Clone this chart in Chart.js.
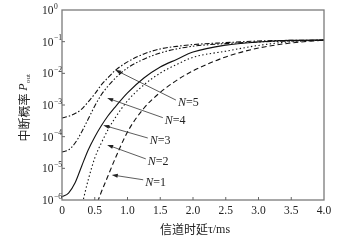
<!DOCTYPE html>
<html>
<head>
<meta charset="utf-8">
<script src="https://cdn.jsdelivr.net/npm/chart.js@4.4.1/dist/chart.umd.min.js"></script>
<style>
html, body { margin: 0; padding: 0; background: #fff; }
#wrap { width: 363px; height: 241px; }
</style>
</head>
<body>
<div id="wrap"><canvas id="chart_outage" width="363" height="241"></canvas></div>
<script>
// channel delay (ms) sample points
var tau = [0, 0.1, 0.2, 0.3, 0.4, 0.5, 0.6, 0.7, 0.8, 1.0, 1.25, 1.5, 1.75, 2.0, 2.5, 3.0, 3.5, 4.0];

// outage probability per N
var pN5 = [3.9e-4, 4.4e-4, 5.4e-4, 7.4e-4, 1.26e-3, 2.24e-3, 4.3e-3, 7.2e-3, 1.17e-2, 2.3e-2, 4.1e-2, 5.9e-2, 7.1e-2, 8.1e-2, 9.3e-2, 0.105, 0.11, 0.112];
var pN4 = [3.3e-5, 3.8e-5, 6.3e-5, 1.41e-4, 3.6e-4, 9.3e-4, 2.1e-3, 3.9e-3, 6.6e-3, 1.48e-2, 2.8e-2, 4.4e-2, 5.9e-2, 7.2e-2, 8.7e-2, 9.8e-2, 0.105, 0.112];
var pN3 = [1.26e-6, 1.66e-6, 3.5e-6, 1.17e-5, 3.8e-5, 9.8e-5, 2.2e-4, 4.5e-4, 8.1e-4, 2.4e-3, 7.1e-3, 1.58e-2, 2.75e-2, 4.7e-2, 7.8e-2, 9.8e-2, 0.11, 0.112];
var pN2 = [null, null, null, 6.3e-7, 4.3e-6, 2.1e-5, 6.3e-5, 1.62e-4, 3.6e-4, 1.35e-3, 4.3e-3, 1.02e-2, 1.9e-2, 3.2e-2, 5.0e-2, 7.6e-2, 0.1, 0.112];
var pN1 = [null, null, null, null, null, 5.0e-7, 1.78e-6, 5.6e-6, 1.78e-5, 1.41e-4, 7.9e-4, 2.5e-3, 6.0e-3, 1.2e-2, 3.3e-2, 6.3e-2, 9.1e-2, 0.112];

var seriesN = ['5', '4', '3', '2', '1'];
var seriesP = [pN5, pN4, pN3, pN2, pN1];
var seriesDash = [[5, 2, 1.5, 2], [5, 2, 1.5, 2, 1.5, 2], [], [1.4, 2.4], [5, 3]];

// annotation labels "N=k": label anchor and arrow tip, in data units
var labelTau = [1.77, 1.57, 1.34, 1.31, 1.27];
var labelP = [1.15e-3, 3.2e-4, 7.3e-5, 1.6e-5, 3.5e-6];
var tipTau = [0.81, 0.69, 0.63, 0.69, 0.76];
var tipP = [1.29e-2, 1.66e-3, 2.3e-4, 5.5e-5, 6.2e-6];

var xTicks = [0, 0.5, 1.0, 1.5, 2.0, 2.5, 3.0, 3.5, 4.0];
var yTicks = [1e-6, 1e-5, 1e-4, 1e-3, 1e-2, 1e-1, 1];
var xTitleCn = '信道时延';
var xTitleEn = 'τ/ms';
var yTitleCn = '中断概率';

var SERIF = '"Liberation Serif", "Times New Roman", serif';
var CJK = '"Noto Sans CJK SC", sans-serif';
var TXT = '#222';

var datasets = seriesN.map(function (n, i) {
    var pts = [];
    tau.forEach(function (t, j) {
        if (seriesP[i][j] !== null) pts.push({ x: t, y: seriesP[i][j] });
    });
    return {
        label: 'N=' + n,
        data: pts,
        borderColor: '#111',
        borderWidth: 1.1,
        borderDash: seriesDash[i],
        pointRadius: 0,
        fill: false,
        cubicInterpolationMode: 'monotone'
    };
});

function arrow(ctx, x0, y0, x1, y1) {
    var ang = Math.atan2(y1 - y0, x1 - x0);
    var len = 6, hw = 2;
    ctx.beginPath();
    ctx.moveTo(x0, y0);
    ctx.lineTo(x1 - Math.cos(ang) * len * 0.8, y1 - Math.sin(ang) * len * 0.8);
    ctx.stroke();
    ctx.beginPath();
    ctx.moveTo(x1, y1);
    ctx.lineTo(x1 - Math.cos(ang) * len - Math.sin(ang) * hw, y1 - Math.sin(ang) * len + Math.cos(ang) * hw);
    ctx.lineTo(x1 - Math.cos(ang) * len + Math.sin(ang) * hw, y1 - Math.sin(ang) * len - Math.cos(ang) * hw);
    ctx.closePath();
    ctx.fill();
}

var framePlugin = {
    id: 'frame',
    afterDraw: function (chart) {
        var ctx = chart.ctx, a = chart.chartArea;
        var sx = chart.scales.x, sy = chart.scales.y;
        ctx.save();

        // box
        ctx.strokeStyle = '#7a7a7a';
        ctx.lineWidth = 1.3;
        ctx.strokeRect(a.left, a.top, a.right - a.left, a.bottom - a.top);

        // inward ticks + labels
        ctx.lineWidth = 1;
        ctx.strokeStyle = '#666';
        ctx.fillStyle = TXT;
        ctx.font = '11.5px ' + SERIF;
        ctx.textAlign = 'center';
        ctx.textBaseline = 'middle';
        xTicks.forEach(function (v) {
            var x = sx.getPixelForValue(v);
            if (v > 0 && v < 4) {
                ctx.beginPath();
                ctx.moveTo(x, a.bottom);
                ctx.lineTo(x, a.bottom - 3);
                ctx.stroke();
            }
            ctx.fillText(v === 0 ? '0' : v.toFixed(1), x, a.bottom + 11);
        });

        ctx.textAlign = 'left';
        yTicks.forEach(function (v) {
            var y = sy.getPixelForValue(v);
            if (v > 1e-6 && v < 1) {
                ctx.beginPath();
                ctx.moveTo(a.left, y);
                ctx.lineTo(a.left + 3, y);
                ctx.stroke();
            }
            var e = Math.round(Math.log10(v));
            var exp = e === 0 ? '0' : '\u2212' + Math.abs(e);
            ctx.font = '11.5px ' + SERIF;
            ctx.textBaseline = 'middle';
            ctx.fillText('10', 42, y + 1);
            var w = ctx.measureText('10').width;
            ctx.font = '7.5px ' + SERIF;
            ctx.textBaseline = 'alphabetic';
            ctx.fillText(exp, 42 + w + 0.5, y - 1.5);
        });

        // x title
        ctx.textBaseline = 'middle';
        ctx.font = '12px ' + CJK;
        var wCn = ctx.measureText(xTitleCn).width;
        ctx.font = '12px ' + SERIF;
        var wEn = ctx.measureText(xTitleEn).width;
        var cx = (a.left + a.right) / 2 + 2;
        var tx = cx - (wCn + wEn) / 2;
        ctx.font = '12px ' + CJK;
        ctx.fillText(xTitleCn, tx, 229);
        ctx.font = '12px ' + SERIF;
        ctx.fillText(xTitleEn, tx + wCn, 230);

        // y title, rotated
        ctx.save();
        ctx.translate(24, (a.top + a.bottom) / 2 + 3);
        ctx.rotate(-Math.PI / 2);
        ctx.font = '12px ' + CJK;
        var w1 = ctx.measureText(yTitleCn + ' ').width;
        ctx.font = 'italic 12px ' + SERIF;
        var w2 = ctx.measureText('P').width;
        ctx.font = '7px ' + SERIF;
        var w3 = ctx.measureText('out').width;
        var sxT = -(w1 + w2 + w3) / 2;
        ctx.font = '12px ' + CJK;
        ctx.fillText(yTitleCn + ' ', sxT, 0);
        ctx.font = 'italic 12px ' + SERIF;
        ctx.fillText('P', sxT + w1, 0);
        ctx.font = '7px ' + SERIF;
        ctx.fillText('out', sxT + w1 + w2 + 0.5, 4);
        ctx.restore();

        // N=k labels with arrows
        ctx.strokeStyle = '#333';
        ctx.fillStyle = '#222';
        ctx.lineWidth = 0.8;
        seriesN.forEach(function (n, i) {
            var lx = sx.getPixelForValue(labelTau[i]);
            var ly = sy.getPixelForValue(labelP[i]);
            var px = sx.getPixelForValue(tipTau[i]);
            var py = sy.getPixelForValue(tipP[i]);
            arrow(ctx, lx - 2, ly - 3, px, py);
            ctx.textBaseline = 'middle';
            ctx.font = 'italic 12px ' + SERIF;
            ctx.fillStyle = TXT;
            ctx.fillText('N', lx, ly);
            var wn = ctx.measureText('N').width;
            ctx.font = '12px ' + SERIF;
            ctx.fillText('=' + n, lx + wn, ly);
        });

        ctx.restore();
    }
};

var chart_outage = new Chart(document.getElementById('chart_outage'), {
    type: 'line',
    data: { datasets: datasets },
    options: {
        animation: false,
        responsive: false,
        devicePixelRatio: 1,
        layout: { padding: { left: 0, top: 10, right: 39, bottom: 0 } },
        plugins: {
            legend: { display: false },
            tooltip: { enabled: false }
        },
        scales: {
            x: {
                type: 'linear',
                min: 0,
                max: 4,
                afterBuildTicks: function (s) { s.ticks = xTicks.map(function (v) { return { value: v }; }); },
                afterFit: function (s) { s.height = 41; },
                ticks: { display: false },
                grid: { display: false },
                border: { display: false }
            },
            y: {
                type: 'logarithmic',
                min: 1e-6,
                max: 1,
                afterBuildTicks: function (s) { s.ticks = yTicks.map(function (v) { return { value: v }; }); },
                afterFit: function (s) { s.width = 62; },
                ticks: { display: false },
                grid: { display: false },
                border: { display: false }
            }
        }
    },
    plugins: [framePlugin]
});
</script>
</body>
</html>
